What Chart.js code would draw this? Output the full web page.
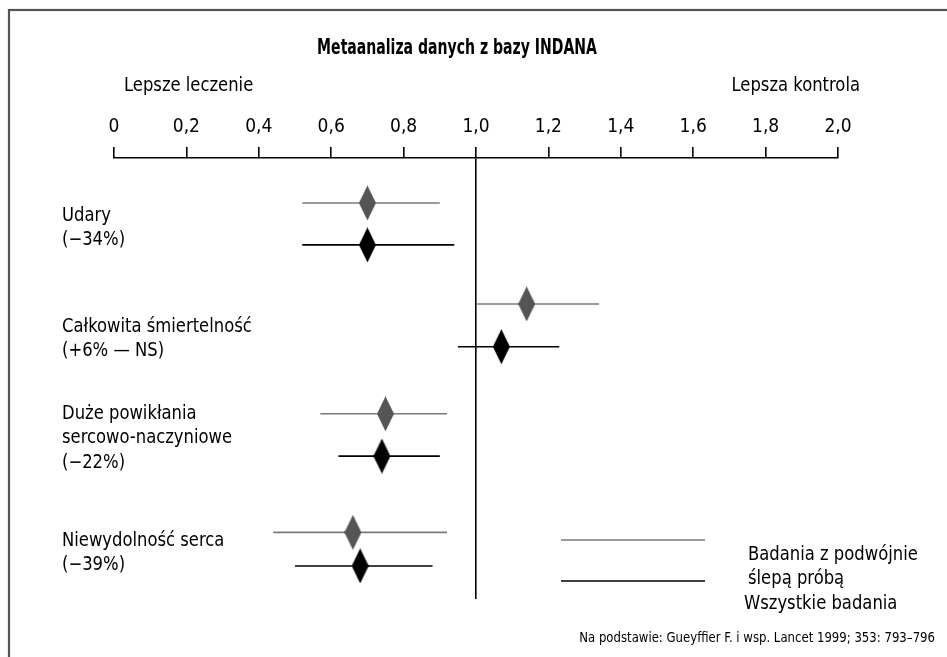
<!doctype html>
<html lang="pl">
<head>
<meta charset="utf-8">
<title>Metaanaliza danych z bazy INDANA</title>
<script src="https://cdn.jsdelivr.net/npm/chart.js@4.4.1/dist/chart.umd.min.js"></script>
<style>
  body { margin: 0; background: #fff; }
  canvas { display: block; }
</style>
</head>
<body>
<canvas id="forest" width="947" height="657"></canvas>
<script>
// data (relative risk, 95% CI)
var outcomes = [
  ['Udary', '(\u221234%)'],
  ['Ca\u0142kowita \u015bmiertelno\u015b\u0107', '(+6% \u2014 NS)'],
  ['Du\u017ce powik\u0142ania', 'sercowo-naczyniowe', '(\u221222%)'],
  ['Niewydolno\u015b\u0107 serca', '(\u221239%)']
];
var seriesNames = [['Badania z podw\u00f3jnie', '\u015blep\u0105 pr\u00f3b\u0105'], ['Wszystkie badania']];
// double-blind trials
var blindEst = [0.70, 1.14, 0.75, 0.66];
var blindLo  = [0.52, 1.00, 0.57, 0.44];
var blindHi  = [0.90, 1.34, 0.92, 0.92];
// all trials
var allEst = [0.70, 1.07, 0.74, 0.68];
var allLo  = [0.52, 0.95, 0.62, 0.50];
var allHi  = [0.94, 1.23, 0.90, 0.88];
var xTicks = [0, 0.2, 0.4, 0.6, 0.8, 1.0, 1.2, 1.4, 1.6, 1.8, 2.0];

// layout (y in 0..100 units of the plot area, label y in px)
var rowBlindY = [10.2, 33.1, 58.0, 84.9];
var rowAllY   = [19.7, 42.8, 67.6, 92.5];
var labelTopY = [216, 327, 414, 541];
var lineGap = 24.5;

var FONT = "'Liberation Sans Narrow', 'DejaVu Sans Condensed', 'Roboto Condensed', sans-serif";
Chart.defaults.font.family = FONT;
Chart.defaults.color = '#000';

function diamond(color) {
  var c = document.createElement('canvas');
  c.width = 17; c.height = 35;
  var g = c.getContext('2d');
  g.fillStyle = color;
  g.beginPath();
  g.moveTo(8.5, 0); g.lineTo(17, 17.5); g.lineTo(8.5, 35); g.lineTo(0, 17.5);
  g.closePath();
  g.fill();
  return c;
}
var grayDiamond = diamond('#555555');
var blackDiamond = diamond('#000000');

function ciSet(lo, est, hi, y, color, width, marker) {
  return {
    type: 'line',
    data: [{x: lo, y: y}, {x: est, y: y}, {x: hi, y: y}],
    borderColor: color,
    borderWidth: width,
    pointStyle: marker,
    pointRadius: function(c) { return c.dataIndex === 1 ? 8 : 0; },
    pointHoverRadius: function(c) { return c.dataIndex === 1 ? 8 : 0; },
    fill: false,
    tension: 0
  };
}

var datasets = [];
for (var i = 0; i < outcomes.length; i++) {
  datasets.push(ciSet(blindLo[i], blindEst[i], blindHi[i], rowBlindY[i], '#7a7a7a', 1.6, grayDiamond));
  datasets.push(ciSet(allLo[i], allEst[i], allHi[i], rowAllY[i], '#000000', 1.6, blackDiamond));
}

// squeeze text a bit, the original uses a condensed face
function txt(ctx, s, x, y, align, sx) {
  ctx.save();
  ctx.translate(x, y);
  ctx.scale(sx, 1);
  ctx.textAlign = align;
  ctx.fillText(s, 0, 0);
  ctx.restore();
}

// texts, legend and frame
var extras = {
  id: 'extras',
  afterDraw: function(chart) {
    var ctx = chart.ctx;
    ctx.save();
    // frame
    ctx.strokeStyle = '#555';
    ctx.lineWidth = 2.2;
    ctx.strokeRect(9, 10, 1000, 1000);

    ctx.fillStyle = '#000';
    ctx.textBaseline = 'middle';
    ctx.font = 'bold 22px ' + FONT;
    txt(ctx, 'Metaanaliza danych z bazy INDANA', 457, 48, 'center', 0.71);

    ctx.font = '19px ' + FONT;
    txt(ctx, 'Lepsze leczenie', 124, 86, 'left', 0.96);
    txt(ctx, 'Lepsza kontrola', 860, 86, 'right', 0.96);

    for (var i = 0; i < outcomes.length; i++) {
      for (var k = 0; k < outcomes[i].length; k++) {
        txt(ctx, outcomes[i][k], 62, labelTopY[i] + k * lineGap, 'left', 0.96);
      }
    }

    // legend
    ctx.lineWidth = 1.6;
    ctx.strokeStyle = '#7a7a7a';
    ctx.beginPath(); ctx.moveTo(561, 540); ctx.lineTo(705, 540); ctx.stroke();
    ctx.strokeStyle = '#000';
    ctx.beginPath(); ctx.moveTo(561, 581); ctx.lineTo(705, 581); ctx.stroke();
    txt(ctx, seriesNames[0][0], 748, 555, 'left', 0.96);
    txt(ctx, seriesNames[0][1], 748, 579, 'left', 0.96);
    txt(ctx, seriesNames[1][0], 744, 604, 'left', 0.96);

    ctx.font = '14px ' + FONT;
    txt(ctx, 'Na podstawie: Gueyffier F. i wsp. Lancet 1999; 353: 793\u2013796', 935, 638, 'right', 0.93);
    ctx.restore();
  }
};

new Chart(document.getElementById('forest'), {
  type: 'line',
  data: { datasets: datasets },
  options: {
    responsive: false,
    animation: false,
    devicePixelRatio: 1,
    layout: { padding: { left: 114, right: 109, top: 98, bottom: 58 } },
    plugins: { legend: { display: false }, tooltip: { enabled: false }, title: { display: false } },
    scales: {
      x: {
        type: 'linear',
        position: 'top',
        min: 0,
        max: 2,
        afterFit: function(s) { s.height = 60; },
        afterBuildTicks: function(s) { s.ticks = xTicks.map(function(v) { return {value: v}; }); },
        ticks: {
          padding: 9,
          font: { size: 19 },
          callback: function(v) { return v === 0 ? '0' : v.toFixed(1).replace('.', ','); }
        },
        grid: {
          color: function(c) { return c.tick && Math.abs(c.tick.value - 1) < 1e-6 ? '#000' : 'rgba(0,0,0,0)'; },
          lineWidth: 1.6,
          tickColor: '#000',
          tickLength: 11
        },
        border: { display: true, color: '#000', width: 1.6 }
      },
      y: {
        type: 'linear',
        display: false,
        min: 0,
        max: 100,
        reverse: true
      }
    }
  },
  plugins: [extras]
});
</script>
</body>
</html>
